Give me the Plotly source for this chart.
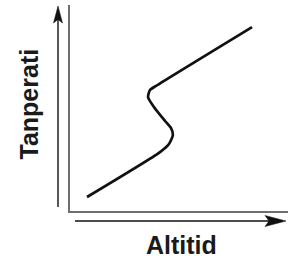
import plotly.graph_objects as go

# Data (schematic curve): altitude vs temperature, in arbitrary units
altitude = [0.78, 4.13, 4.54, 4.72, 4.63, 4.36, 3.85, 3.58, 3.67, 3.94, 8.35]
temperature = [0.68, 2.86, 3.25, 3.69, 4.03, 4.37, 5.05, 5.53, 5.87, 6.07, 8.93]

x_title = "Altitid"
y_title = "Tanperati"

W, H = 297, 259
L, R, T, B = 70, 288, 5, 211  # plot area in pixels


def px(xp):
    return (xp - L) / (R - L)


def py(yp):
    return (B - yp) / (B - T)


fig = go.Figure()
fig.add_trace(go.Scatter(
    x=altitude, y=temperature, mode="lines",
    line=dict(color="#111111", width=2.7, shape="spline", smoothing=0.6),
    hoverinfo="skip", showlegend=False,
))

axis_common = dict(showgrid=False, zeroline=False, showticklabels=False,
                   ticks="", showline=True, linecolor="#6e6e6e", linewidth=1.5)

fig.update_layout(
    width=W, height=H,
    margin=dict(l=L, r=W - R, t=T, b=H - B, pad=0),
    paper_bgcolor="white", plot_bgcolor="white",
    xaxis=dict(range=[0, 10], **axis_common),
    yaxis=dict(range=[0, 10], **axis_common),
    font=dict(family="Liberation Sans, Arial, sans-serif"),
)

black = "#111111"
shapes = [
    # vertical arrow shaft
    dict(type="line", xref="paper", yref="paper",
         x0=px(58), y0=py(207), x1=px(58), y1=py(16),
         line=dict(color=black, width=1.4)),
    # vertical arrow head
    dict(type="path", xref="paper", yref="paper",
         path=f"M{px(58)},{py(6)} L{px(53.5)},{py(23)} L{px(58)},{py(19.5)} L{px(62.5)},{py(23)} Z",
         fillcolor=black, line=dict(color=black, width=0.5)),
    # horizontal arrow shaft
    dict(type="line", xref="paper", yref="paper",
         x0=px(75), y0=py(221), x1=px(272), y1=py(221),
         line=dict(color=black, width=1.4)),
    # horizontal arrow head
    dict(type="path", xref="paper", yref="paper",
         path=f"M{px(286)},{py(221)} L{px(265)},{py(215.5)} L{px(269)},{py(221)} L{px(265)},{py(226.5)} Z",
         fillcolor=black, line=dict(color=black, width=0.5)),
]
fig.update_layout(shapes=shapes)

fig.add_annotation(text=y_title, xref="paper", yref="paper",
                   x=px(28), y=py(104.5), xanchor="center", yanchor="middle",
                   textangle=-90, showarrow=False,
                   font=dict(size=25, color="#1a1a1a", weight="bold"))
fig.add_annotation(text=x_title, xref="paper", yref="paper",
                   x=px(181), y=py(244.5), xanchor="center", yanchor="middle",
                   showarrow=False,
                   font=dict(size=25, color="#1a1a1a", weight="bold"))

fig.write_html("out.html", config={"displayModeBar": False},
               post_script="document.body.style.margin='0';document.body.style.padding='0';")
